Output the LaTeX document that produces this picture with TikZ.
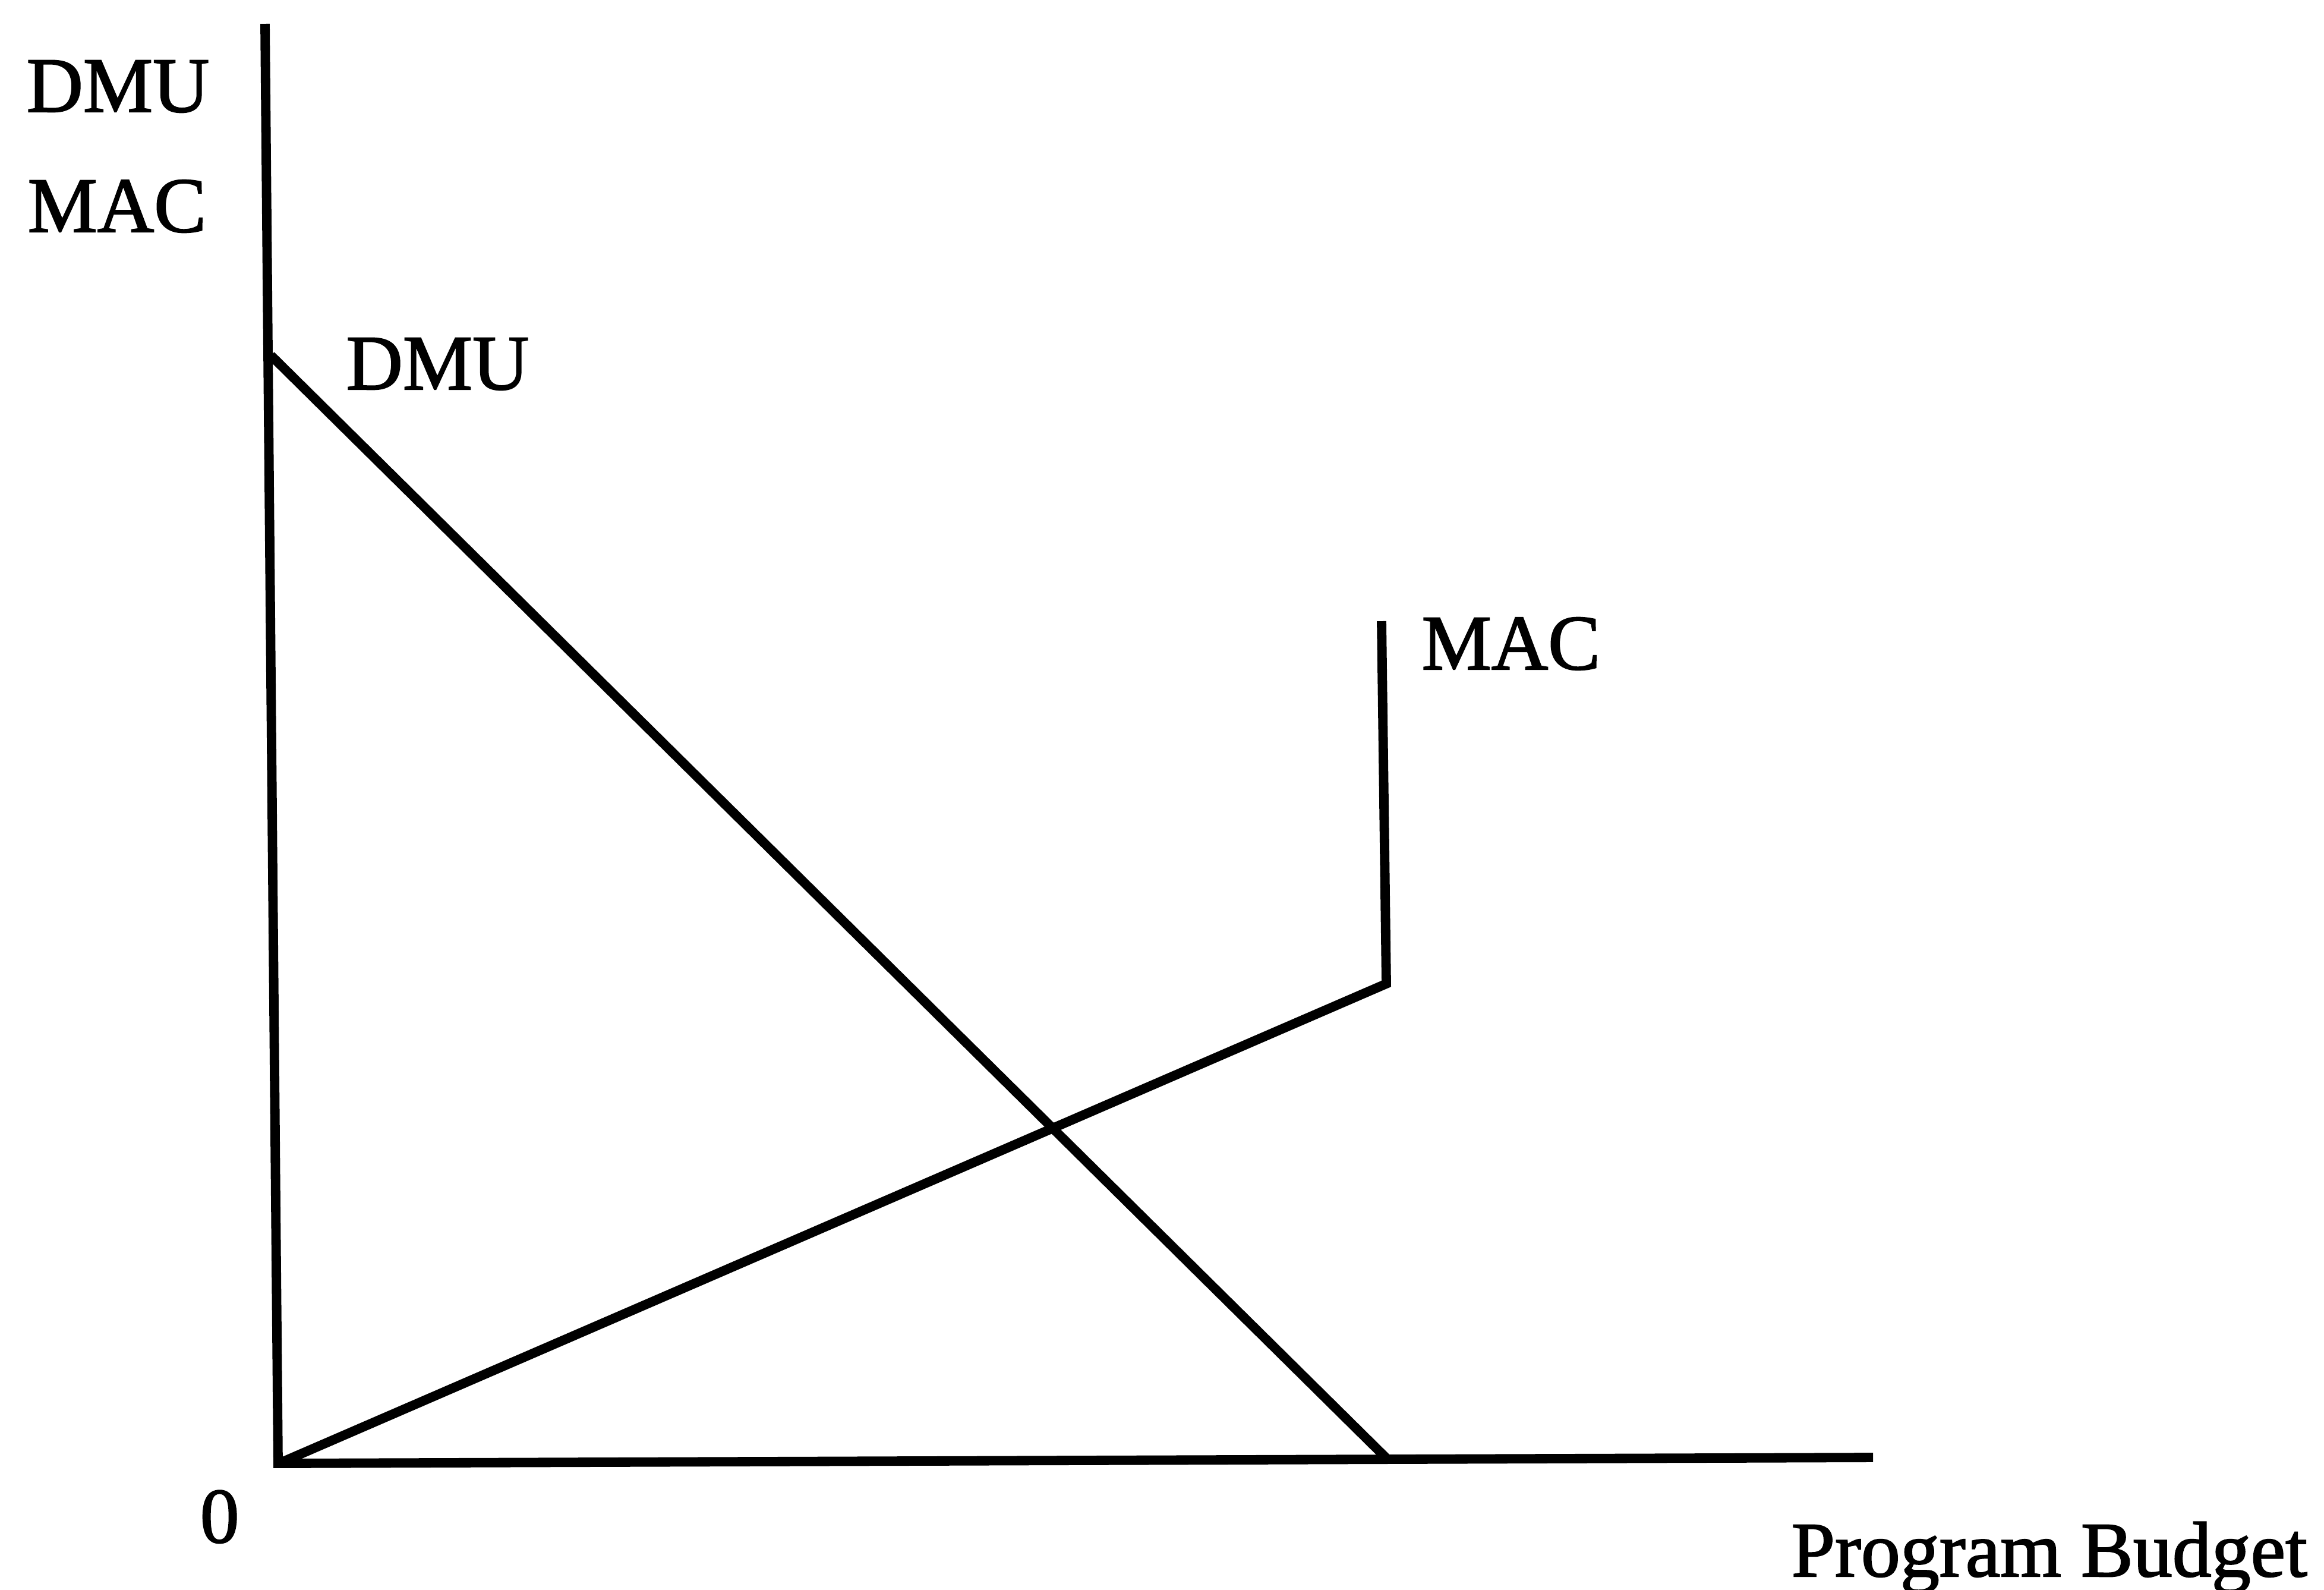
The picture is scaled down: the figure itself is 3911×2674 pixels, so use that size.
\documentclass[tikz,border=0pt]{standalone}
\usepackage{fontspec}
\setmainfont{Liberation Serif}
\newfontfamily\heavyserif[FakeBold=1.6]{Liberation Serif}
\begin{document}
\begin{tikzpicture}[x=0.01cm,y=-0.01cm,
  curve/.style={line width=4.5pt, line join=miter},
  lbl/.style={anchor=base west, inner sep=0pt, font=\heavyserif\fontsize{37.5}{45}\selectfont}]
\useasboundingbox (0,0) rectangle (3911,2674);
% axes
\coordinate (ytop) at (446,40);
\coordinate (origin) at (468,2462);
\coordinate (xend) at (3152,2452);
\draw[curve] (ytop) -- (origin) -- (xend);
% DMU line
\coordinate (dmuA) at (456,598);
\coordinate (dmuB) at (2337,2457);
\draw[curve] (dmuA) -- (dmuB);
% MAC line
\coordinate (macA) at (474,2460);
\coordinate (macK) at (2333,1655);
\coordinate (macT) at (2325,1045);
\draw[curve] (macA) -- (macK) -- (macT);
% labels
\node[lbl] (ydmu) at (44,188) {DMU};
\node[lbl] (ymac) at (46,390) {MAC};
\node[lbl] (dmulbl) at (582,655) {DMU};
\node[lbl] (maclbl) at (2392,1126) {MAC};
\node[lbl] (zero) at (336,2595) {0};
\node[lbl] (xlbl) at (3014,2652) {Program Budget};
\end{tikzpicture}
\end{document}
